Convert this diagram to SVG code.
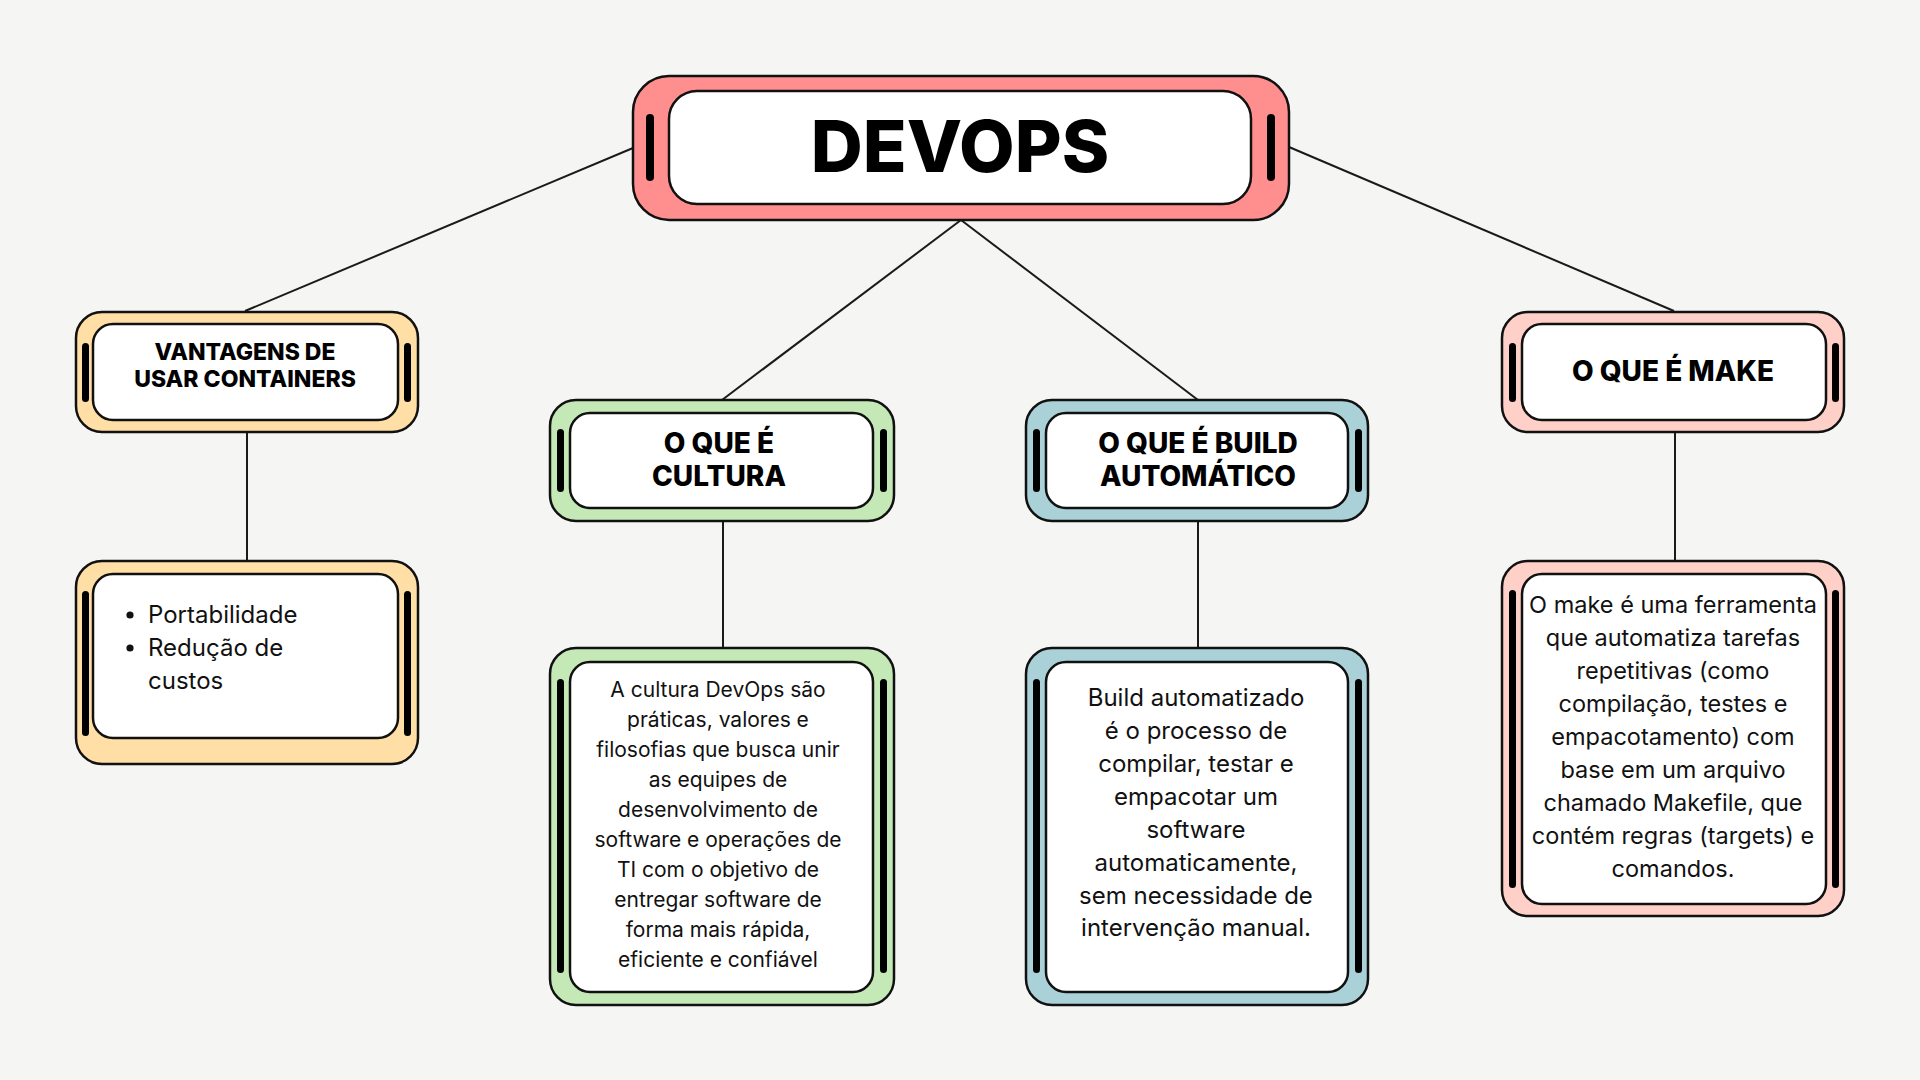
<svg xmlns="http://www.w3.org/2000/svg" width="1920" height="1080" viewBox="0 0 1920 1080">
<style>
.outer{stroke:#111;stroke-width:2.5}
.inner{fill:#fff;stroke:#111;stroke-width:2.5}
.bar{fill:#000}
.red{fill:#FF8F8F}
.yel{fill:#FFDFA5}
.grn{fill:#C5E8B7}
.blu{fill:#A9D1D7}
.pnk{fill:#FFD0C7}
.h{font-family:Inter,"Liberation Sans",sans-serif;font-weight:800;fill:#000;text-anchor:middle}
.t{font-family:Inter,"Liberation Sans",sans-serif;font-weight:400;fill:#111;text-anchor:middle}
.ts{font-family:Inter,"Liberation Sans",sans-serif;font-weight:400;fill:#111;text-anchor:start}
.conn line{stroke:#1a1a1a;stroke-width:2}
</style>
<rect width="1920" height="1080" fill="#F5F5F4"/>
<g class="conn" id="connectors">
<line x1="633" y1="148" x2="245" y2="311"/>
<line x1="961" y1="220" x2="722" y2="400"/>
<line x1="961" y1="220" x2="1198" y2="400"/>
<line x1="1289" y1="147" x2="1674" y2="311"/>
<line x1="247" y1="432" x2="247" y2="561"/>
<line x1="723" y1="521" x2="723" y2="648"/>
<line x1="1198" y1="521" x2="1198" y2="648"/>
<line x1="1675" y1="432" x2="1675" y2="561"/>
</g>
<g id="devops">
<rect class="outer red" x="633" y="76" width="656" height="144" rx="36"/>
<rect class="inner" x="669" y="91" width="582" height="113" rx="28"/>
<rect class="bar" x="646" y="114" width="8" height="67" rx="4"/>
<rect class="bar" x="1267" y="114" width="8" height="67" rx="4"/>
<text class="h" x="960" y="172" font-size="72">DEVOPS</text>
</g>
<g id="vantagens">
<rect class="outer yel" x="76" y="312" width="342" height="120" rx="26"/>
<rect class="inner" x="93" y="324" width="305" height="96" rx="20"/>
<rect class="bar" x="82" y="343" width="7" height="59" rx="3.5"/>
<rect class="bar" x="404" y="343" width="7" height="59" rx="3.5"/>
<text class="h" x="245" y="360" font-size="23">VANTAGENS DE</text>
<text class="h" x="245" y="387" font-size="23">USAR CONTAINERS</text>
</g>
<g id="vantagens-lista">
<rect class="outer yel" x="76" y="561" width="342" height="203" rx="26"/>
<rect class="inner" x="93" y="574" width="305" height="164" rx="20"/>
<rect class="bar" x="82" y="591" width="7" height="145" rx="3.5"/>
<rect class="bar" x="404" y="591" width="7" height="145" rx="3.5"/>
<circle cx="130" cy="615" r="3.6" fill="#111"/>
<circle cx="130" cy="648" r="3.6" fill="#111"/>
<text class="ts" x="148" y="623" font-size="24">Portabilidade</text>
<text class="ts" x="148" y="656" font-size="24">Redução de</text>
<text class="ts" x="148" y="689" font-size="24">custos</text>
</g>
<g id="cultura">
<rect class="outer grn" x="550" y="400" width="344" height="121" rx="26"/>
<rect class="inner" x="570" y="413" width="303" height="95" rx="20"/>
<rect class="bar" x="557" y="429" width="7" height="63" rx="3.5"/>
<rect class="bar" x="880" y="429" width="7" height="63" rx="3.5"/>
<text class="h" x="719" y="453" font-size="28">O QUE É</text>
<text class="h" x="719" y="486" font-size="28">CULTURA</text>
</g>
<g id="cultura-texto">
<rect class="outer grn" x="550" y="648" width="344" height="357" rx="26"/>
<rect class="inner" x="570" y="662" width="303" height="330" rx="20"/>
<rect class="bar" x="557" y="679" width="7" height="294" rx="3.5"/>
<rect class="bar" x="880" y="679" width="7" height="294" rx="3.5"/>
<g class="t" font-size="21">
<text x="718" y="697">A cultura DevOps são</text>
<text x="718" y="727">práticas, valores e</text>
<text x="718" y="757">filosofias que busca unir</text>
<text x="718" y="787">as equipes de</text>
<text x="718" y="817">desenvolvimento de</text>
<text x="718" y="847">software e operações de</text>
<text x="718" y="877">TI com o objetivo de</text>
<text x="718" y="907">entregar software de</text>
<text x="718" y="937">forma mais rápida,</text>
<text x="718" y="967">eficiente e confiável</text>
</g>
</g>
<g id="build">
<rect class="outer blu" x="1026" y="400" width="342" height="121" rx="26"/>
<rect class="inner" x="1046" y="413" width="302" height="95" rx="20"/>
<rect class="bar" x="1033" y="429" width="7" height="63" rx="3.5"/>
<rect class="bar" x="1355" y="429" width="7" height="63" rx="3.5"/>
<text class="h" x="1198" y="453" font-size="28">O QUE É BUILD</text>
<text class="h" x="1198" y="486" font-size="28">AUTOMÁTICO</text>
</g>
<g id="build-texto">
<rect class="outer blu" x="1026" y="648" width="342" height="357" rx="26"/>
<rect class="inner" x="1046" y="662" width="302" height="330" rx="20"/>
<rect class="bar" x="1033" y="679" width="7" height="294" rx="3.5"/>
<rect class="bar" x="1355" y="679" width="7" height="294" rx="3.5"/>
<g class="t" font-size="24">
<text x="1196" y="706">Build automatizado</text>
<text x="1196" y="739">é o processo de</text>
<text x="1196" y="772">compilar, testar e</text>
<text x="1196" y="805">empacotar um</text>
<text x="1196" y="838">software</text>
<text x="1196" y="871">automaticamente,</text>
<text x="1196" y="904">sem necessidade de</text>
<text x="1196" y="936">intervenção manual.</text>
</g>
</g>
<g id="make">
<rect class="outer pnk" x="1502" y="312" width="342" height="120" rx="26"/>
<rect class="inner" x="1522" y="324" width="304" height="96" rx="20"/>
<rect class="bar" x="1509" y="343" width="7" height="59" rx="3.5"/>
<rect class="bar" x="1832" y="343" width="7" height="59" rx="3.5"/>
<text class="h" x="1673" y="381" font-size="28">O QUE É MAKE</text>
</g>
<g id="make-texto">
<rect class="outer pnk" x="1502" y="561" width="342" height="355" rx="26"/>
<rect class="inner" x="1522" y="574" width="304" height="330" rx="20"/>
<rect class="bar" x="1509" y="590" width="7" height="298" rx="3.5"/>
<rect class="bar" x="1832" y="590" width="7" height="298" rx="3.5"/>
<g class="t" font-size="23.5">
<text x="1673" y="613">O make é uma ferramenta</text>
<text x="1673" y="646">que automatiza tarefas</text>
<text x="1673" y="679">repetitivas (como</text>
<text x="1673" y="712">compilação, testes e</text>
<text x="1673" y="745">empacotamento) com</text>
<text x="1673" y="778">base em um arquivo</text>
<text x="1673" y="811">chamado Makefile, que</text>
<text x="1673" y="844">contém regras (targets) e</text>
<text x="1673" y="877">comandos.</text>
</g>
</g>
</svg>
